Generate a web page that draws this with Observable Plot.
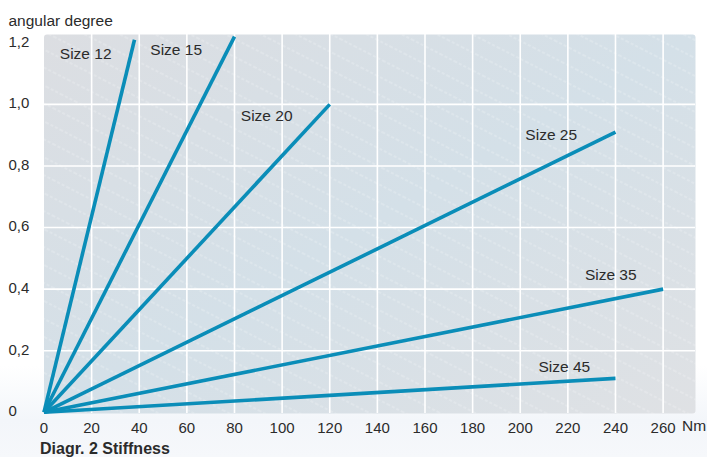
<!DOCTYPE html>
<html>
<head>
<meta charset="utf-8">
<script src="https://cdn.jsdelivr.net/npm/d3@7"></script>
<script src="https://cdn.jsdelivr.net/npm/@observablehq/plot@0.6"></script>
<style>
  html, body { margin: 0; padding: 0; }
  body {
    width: 707px; height: 457px; overflow: hidden;
    background: linear-gradient(to bottom, #ffffff 0%, #ffffff 80%, #f3f6fa 92%, #f6f8fb 100%);
    font-family: "Liberation Sans", Arial, Helvetica, sans-serif;
  }
  #chart svg { display: block; background: transparent !important; }
</style>
</head>
<body>
<div id="chart"></div>
<script>
// Data
const sizes      = ["Size 12", "Size 15", "Size 20", "Size 25", "Size 35", "Size 45"];
const endTorque  = [38, 80, 120, 240, 260, 240];          // Nm
const endAngle   = [1.21, 1.22, 1.0, 0.91, 0.40, 0.11];    // angular degree
const labelTorque = [17.5, 55.5, 93.5, 213, 238, 218.5];
const labelAngle  = [1.165, 1.175, 0.962, 0.9, 0.445, 0.147];
const xTicks = [0, 20, 40, 60, 80, 100, 120, 140, 160, 180, 200, 220, 240, 260];
const yTicks = [0, 0.2, 0.4, 0.6, 0.8, 1.0, 1.2];
const xGrid = xTicks.filter(d => d > 0);
const yGrid = [0.2, 0.4, 0.6, 0.8, 1.0];

const lineData = sizes.flatMap((s, i) => [
  {size: s, torque: 0, angle: 0},
  {size: s, torque: endTorque[i], angle: endAngle[i]}
]);
const labelData = sizes.map((s, i) => ({size: s, torque: labelTorque[i], angle: labelAngle[i]}));

const FONT = "'Liberation Sans', Arial, Helvetica, sans-serif";
const TXT = "#2b2b2b";
const LINE = "#0a8db8";

const chart = Plot.plot({
  width: 707,
  height: 457,
  marginLeft: 43.5,
  marginRight: 12,
  marginTop: 34,
  marginBottom: 44,
  style: {fontFamily: FONT, fontSize: "15px", color: TXT, background: "transparent"},
  x: {domain: [0, 273.6]},
  y: {domain: [-0.004, 1.227]},
  marks: [
    Plot.frame({fill: "url(#bgGrad)", stroke: null, rx: 3}),
    Plot.frame({fill: "url(#hatch)", stroke: null, rx: 3}),
    Plot.gridX(xGrid, {stroke: "#ffffff", strokeOpacity: 1, strokeWidth: 1.6}),
    Plot.gridY(yGrid, {stroke: "#ffffff", strokeOpacity: 1, strokeWidth: 1.6}),
    Plot.axisX(xTicks, {tickSize: 0, tickPadding: 9, fontSize: 15, fill: TXT, label: null}),
    Plot.axisY(yTicks, {
      tickSize: 0, tickPadding: 35.5, textAnchor: "start", fontSize: 15, fill: TXT, label: null, dy: -1,
      tickFormat: d => d === 0 ? "0" : d.toFixed(1).replace(".", ",")
    }),
    Plot.line(lineData, {x: "torque", y: "angle", z: "size", stroke: LINE, strokeWidth: 3.6, strokeLinecap: "butt", clip: false}),
    Plot.text(labelData, {x: "torque", y: "angle", text: "size", fontSize: 15.5, fill: TXT}),
    Plot.text(["angular degree"], {frameAnchor: "top-left", dx: -35.5, dy: -19.5, textAnchor: "start", fontSize: 15.5, fill: TXT}),
    Plot.text(["Nm"], {frameAnchor: "bottom-right", dx: -13.5, dy: 17, textAnchor: "start", fontSize: 15.5, fill: TXT}),
    Plot.text(["Diagr. 2 Stiffness"], {frameAnchor: "bottom-left", dx: -4, dy: 40, textAnchor: "start", fontSize: 16, fontWeight: "bold", fill: TXT})
  ]
});

const svg = d3.select(chart);
const defs = svg.insert("defs", ":first-child");
const g = defs.append("linearGradient").attr("id", "bgGrad")
  .attr("x1", "0").attr("y1", "0").attr("x2", "1").attr("y2", "1");
g.append("stop").attr("offset", "0%").attr("stop-color", "#dcdee2");
g.append("stop").attr("offset", "50%").attr("stop-color", "#d4e0e8");
g.append("stop").attr("offset", "100%").attr("stop-color", "#dfe1e4");
const p = defs.append("pattern").attr("id", "hatch")
  .attr("patternUnits", "userSpaceOnUse").attr("width", 16).attr("height", 16)
  .attr("patternTransform", "rotate(27)");
p.append("line").attr("x1", 0).attr("y1", 8).attr("x2", 16).attr("y2", 8)
  .attr("stroke", "#ffffff").attr("stroke-opacity", 0.45).attr("stroke-width", 0.8)
  .attr("stroke-dasharray", "3 2");

document.getElementById("chart").appendChild(chart);
</script>
</body>
</html>
